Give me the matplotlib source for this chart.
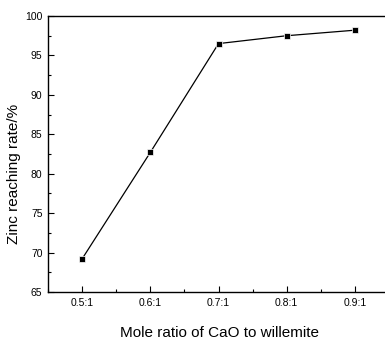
import matplotlib.pyplot as plt
from matplotlib.ticker import MultipleLocator

ratios = ['0.5:1', '0.6:1', '0.7:1', '0.8:1', '0.9:1']
zinc_rate = [69.2, 82.7, 96.5, 97.5, 98.2]

plt.rcParams['font.family'] = ['Liberation Sans', 'DejaVu Sans']

fig = plt.figure(figsize=(3.85, 3.40), dpi=100)
# right spine falls just outside the picture, like the original
ax = fig.add_axes([48 / 385, 48 / 340, 341 / 385, 276 / 340])

x = list(range(len(ratios)))
ax.plot(x, zinc_rate, color='black', linewidth=0.9, marker='s',
        markersize=5, markerfacecolor='black', markeredgecolor='white',
        markeredgewidth=0.5)

ax.set_xlim(-0.5, 4.5)
ax.set_ylim(65, 100)
ax.set_xticks(x)
ax.set_xticklabels(ratios)
ax.xaxis.set_minor_locator(MultipleLocator(0.5))
ax.yaxis.set_major_locator(MultipleLocator(5))
ax.yaxis.set_minor_locator(MultipleLocator(2.5))

ax.tick_params(which='both', direction='in', labelsize=7.5, width=0.8)
ax.tick_params(which='major', length=4, pad=4)
ax.tick_params(which='minor', length=2)

for side in ax.spines:
    ax.spines[side].set_linewidth(1)
ax.spines['right'].set_visible(False)

# axis titles placed on the figure to match the original positions
fig.text(219 / 385, 1 - 333 / 340, 'Mole ratio of CaO to willemite',
         ha='center', va='center', fontsize=11)
fig.text(14 / 385, 1 - 174 / 340, 'Zinc reaching rate/%',
         ha='center', va='center', rotation=90, fontsize=11)

fig.savefig('out.png', dpi=100)
